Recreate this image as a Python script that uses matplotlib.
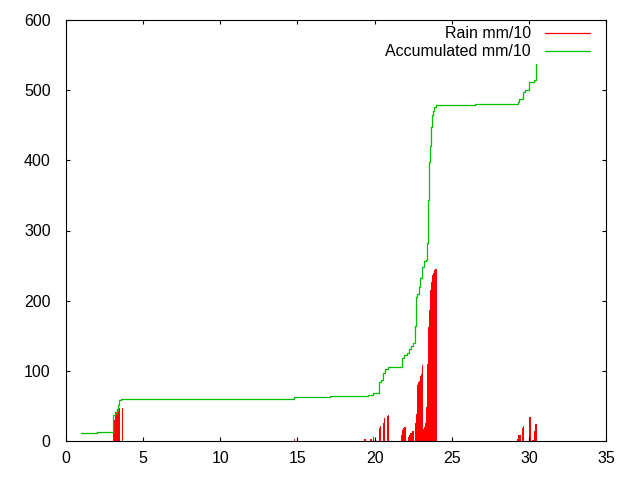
import matplotlib
matplotlib.use("Agg")
import matplotlib.pyplot as plt
from matplotlib.lines import Line2D

plt.rcParams['font.family'] = ['Liberation Sans', 'DejaVu Sans']

# rain (mm/10), days of month
rain_x = [3.05, 3.11, 3.18, 3.24, 3.31, 3.37, 3.44, 3.65,
          14.8,
          19.38, 19.77, 19.92,
          20.3, 20.37, 20.57, 20.63, 20.82, 20.89,
          21.78, 21.84, 21.91, 21.97, 22.03,
          22.18, 22.25, 22.31, 22.37, 22.44, 22.49, 22.53,
          22.66, 22.72, 22.77, 22.83, 22.9, 22.96, 23.03, 23.09, 23.16,
          23.22, 23.27, 23.33, 23.4, 23.46, 23.53, 23.59, 23.65, 23.72, 23.78,
          23.85, 23.91, 23.98,
          29.28, 29.34, 29.41, 29.47, 29.6, 29.66, 30.03, 30.09, 30.22, 30.3,
          30.4, 30.46]
rain_y = [23, 30, 37, 42, 44, 46, 47.5, 47.5,
          3,
          2.4, 3.3, 6,
          19, 22, 26, 33, 35, 37,
          8.5, 15.7, 19, 19.5, 20.4,
          6, 8.5, 12, 12, 12, 14.7, 7,
          25, 39, 80, 84, 86, 92, 96, 108, 17,
          17, 20, 25, 49, 110, 163, 187, 215, 227, 237,
          239, 243, 245,
          3, 8.5, 8.5, 8.5, 18, 22, 34, 34, 1, 1,
          14, 24]

# accumulated (mm/10)
acc_x = [0.97, 1.99, 3.05, 3.2, 3.28, 3.35, 3.46, 3.54, 14.8, 17.1, 19.6,
         19.87, 20.3, 20.4, 20.57, 20.67, 20.9, 21.8, 21.93, 22.08, 22.2,
         22.34, 22.5, 22.6, 22.66, 22.77, 22.86, 22.96, 23.07, 23.18, 23.31,
         23.37, 23.46, 23.53, 23.57, 23.65, 23.72, 23.79, 23.87, 24.0, 26.5,
         29.27, 29.38, 29.6, 29.75, 30.0, 30.35, 30.46]
acc_y = [11.4, 13, 37, 40, 44, 51, 58.4, 60, 62, 64, 65.5,
         68, 84.5, 87, 96.4, 102, 105, 118.7, 122.5, 125, 130.6,
         136, 139, 164, 205.7, 209, 220, 232.8, 248, 256, 258,
         282.6, 343.5, 398, 420, 448, 464.6, 470.7, 475.5, 478.5, 480,
         483, 487, 497.8, 500, 512, 515, 537]

red = '#ff0000'
green = '#00c000'
fs = 11.5

fig = plt.figure(figsize=(6.4, 4.8), dpi=100)
ax = fig.add_axes([66/640, 1-441/480, 540/640, 421/480])

ax.bar(rain_x, rain_y, width=0.072, color=red, linewidth=0, antialiased=False)
ax.plot(acc_x, acc_y, color=green, lw=0.9, drawstyle='steps-post')

ax.set_xlim(0, 35)
ax.set_ylim(0, 600)
ax.set_xticks(range(0, 36, 5))
ax.set_yticks(range(0, 601, 100))
ax.tick_params(direction='in', length=3, width=0.8, top=True, right=True,
               labelsize=fs)
ax.tick_params(axis='y', pad=11)
ax.tick_params(axis='x', pad=7)
for s in ax.spines.values():
    s.set_linewidth(0.8)

# key, gnuplot style: text right-aligned, sample on the right
for lab, col, yy in [('Rain mm/10', red, 0.969), ('Accumulated mm/10', green, 0.926)]:
    ax.text(0.861, yy, lab, transform=ax.transAxes, ha='right', va='center', fontsize=fs)
    ax.add_line(Line2D([0.887, 0.970], [yy, yy], transform=ax.transAxes, color=col, lw=0.9))

fig.savefig('out.png')
